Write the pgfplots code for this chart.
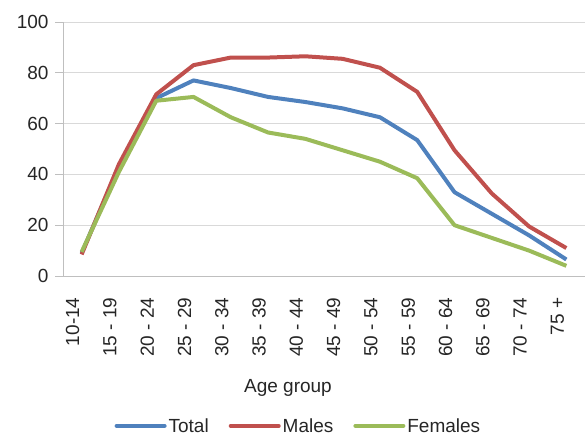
\documentclass[border=0pt]{standalone}
\usepackage{pgfplots}
\pgfplotsset{compat=1.18}
\usepackage{fontspec}
\setmainfont{Liberation Sans}
\definecolor{cTotal}{HTML}{4F81BD}
\definecolor{cMale}{HTML}{C0504D}
\definecolor{cFem}{HTML}{9BBB59}
\definecolor{gridc}{HTML}{D9D9D9}
\definecolor{axc}{HTML}{BFBFBF}
\definecolor{txt}{HTML}{262626}
\newcommand{\cf}{\fontsize{19bp}{22bp}\selectfont}
\begin{document}
\begin{tikzpicture}
\begin{axis}[
 at={(0,0)}, anchor=south west,
 scale only axis, width=522bp, height=254bp,
 xmin=-0.5, xmax=13.5, ymin=0, ymax=100,
 ytick={0,20,...,100},
 xtick={0,...,13},
 xticklabels={10-14, 15 - 19, 20 - 24, 25 - 29, 30 - 34, 35 - 39, 40 - 44, 45 - 49, 50 - 54, 55 - 59, 60 - 64, 65 - 69, 70 - 74, 75 +},
 /pgf/number format/assume math mode=true,
 ymajorgrids, grid style={gridc, line width=1bp},
 axis x line*=bottom, axis y line*=left,
 axis line style={-, draw=axc, line width=1bp},
 tick align=outside,
 ytick style={draw=axc, line width=1bp},
 major tick length=8bp,
 xtick style={draw=none},
 yticklabel style={font=\cf, text=txt, xshift=-3bp},
 xticklabel style={font=\cf, text=txt, xshift=-9bp, yshift=-10bp, rotate=90, anchor=east},
 xlabel={Age group},
 xlabel style={font=\cf, text=txt, at={(axis description cs:0.431,-0.44)}, anchor=center},
 legend style={at={(axis description cs:0.451,-0.59)}, anchor=center, draw=none, fill=none, legend columns=3, font=\cf, text=txt,
   /tikz/every even column/.append style={column sep=18bp}},
 legend image code/.code={\draw[#1, line width=4bp, line cap=round] (0bp,0bp) -- (48bp,0bp);},
 every axis plot/.append style={line width=4bp, line join=round, mark=none},
]
\addplot[cTotal] coordinates {(0,9) (1,43) (2,70) (3,77) (4,74) (5,70.5) (6,68.5) (7,66) (8,62.5) (9,53.5) (10,33) (11,24.5) (12,16) (13,6.5)};
\addlegendentry{Total}
\addplot[cMale] coordinates {(0,8.5) (1,44) (2,71.5) (3,83) (4,86) (5,86) (6,86.5) (7,85.5) (8,82) (9,72.5) (10,49.5) (11,32.5) (12,19.5) (13,11)};
\addlegendentry{Males}
\addplot[cFem] coordinates {(0,9.5) (1,41) (2,69) (3,70.5) (4,62.5) (5,56.5) (6,54) (7,49.5) (8,45) (9,38.5) (10,20) (11,15) (12,10) (13,4)};
\addlegendentry{Females}
\end{axis}
\pgfresetboundingbox
\path[use as bounding box] (-63bp,-160bp) rectangle (523bp,276bp);
\end{tikzpicture}
\end{document}
